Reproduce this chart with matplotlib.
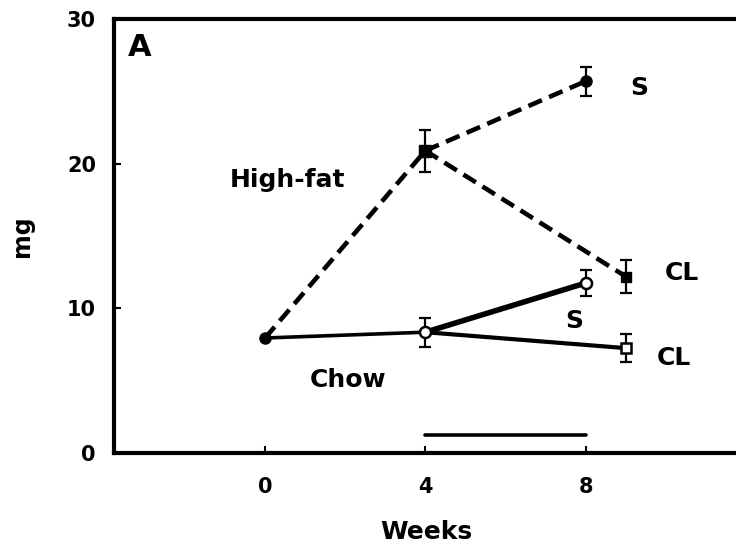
import matplotlib
matplotlib.use("Agg")
import matplotlib.pyplot as plt

# values (mg vs weeks)
start_week = 0
start_mg = 7.95

hf_weeks = [4, 8, 9]          # high-fat: week 4, then S (week 8) and CL (plotted at 9)
hf_mg = [20.9, 25.7, 12.2]
hf_err = [1.45, 1.0, 1.15]

chow_weeks = [4, 8, 9]
chow_mg = [8.35, 11.75, 7.25]
chow_err = [1.0, 0.9, 0.95]

treat_weeks = [4, 8]
treat_level = 1.25

x_ticks = [0, 4, 8]
y_ticks = [0, 10, 20, 30]

labels = [("High-fat", -0.87, 18.4), ("Chow", 1.12, 4.56),
          ("S", 9.1, 24.74), ("CL", 9.98, 11.96),
          ("S", 7.48, 8.64), ("CL", 9.78, 6.08)]

plt.rcParams['font.family'] = ['DejaVu Sans']
plt.rcParams['font.weight'] = 'bold'

fig = plt.figure(figsize=(7.36, 5.5), dpi=100)
ax = fig.add_axes([114 / 736, 97 / 550, 624 / 736, 434 / 550])

dash = (0, (3.2, 1.7))
# high-fat (dashed)
ax.plot([start_week, hf_weeks[0]], [start_mg, hf_mg[0]], color="black", lw=3.3, ls=dash)
ax.plot([hf_weeks[0], hf_weeks[1]], [hf_mg[0], hf_mg[1]], color="black", lw=3.3, ls=dash)
ax.plot([hf_weeks[0], hf_weeks[2]], [hf_mg[0], hf_mg[2]], color="black", lw=3.3, ls=dash)

# chow (solid)
ax.plot([start_week, chow_weeks[0]], [start_mg, chow_mg[0]], color="black", lw=2.6)
ax.plot([chow_weeks[0], chow_weeks[1]], [chow_mg[0], chow_mg[1]], color="black", lw=4)
ax.plot([chow_weeks[0], chow_weeks[2]], [chow_mg[0], chow_mg[2]], color="black", lw=3)

# error bars
ax.errorbar(hf_weeks, hf_mg, yerr=hf_err, fmt="none", ecolor="black",
            elinewidth=1.6, capsize=4.5, capthick=1.6, zorder=3)
ax.errorbar(chow_weeks, chow_mg, yerr=chow_err, fmt="none", ecolor="black",
            elinewidth=1.6, capsize=4.5, capthick=1.6, zorder=3)

# markers
ax.plot([start_week], [start_mg], "o", color="black", ms=8, zorder=4)
ax.plot(hf_weeks[0], hf_mg[0], "s", color="black", ms=8, zorder=4)
ax.plot(hf_weeks[1], hf_mg[1], "o", color="black", ms=8, zorder=4)
ax.plot(hf_weeks[2], hf_mg[2], "s", color="black", ms=7.5, zorder=4)
ax.plot(chow_weeks[0], chow_mg[0], "o", mfc="white", mec="black", mew=1.8, ms=8, zorder=4)
ax.plot(chow_weeks[1], chow_mg[1], "o", mfc="white", mec="black", mew=1.8, ms=8, zorder=4)
ax.plot(chow_weeks[2], chow_mg[2], "s", mfc="white", mec="black", mew=1.8, ms=7.5, zorder=4)

# treatment period bar
ax.plot(treat_weeks, [treat_level, treat_level], color="black", lw=2.6, solid_capstyle="round")

for txt, x, y in labels:
    ax.text(x, y, txt, fontsize=18, fontweight="bold", ha="left", va="baseline")
ax.text(0.022, 0.935, "A", transform=ax.transAxes, fontsize=22, fontweight="bold",
        ha="left", va="center")

ax.set_xlim(-3.77, 11.8)
ax.set_ylim(0, 30)
ax.set_xticks(x_ticks)
ax.set_yticks(y_ticks)
ax.tick_params(direction="in", length=5, width=1.5, labelsize=15)
ax.tick_params(axis="x", pad=17)
ax.tick_params(axis="y", pad=13)
for lab in ax.get_xticklabels() + ax.get_yticklabels():
    lab.set_fontweight("bold")

for side in ["left", "bottom", "top"]:
    ax.spines[side].set_linewidth(3)
ax.spines["right"].set_visible(False)

ax.set_xlabel("Weeks", fontsize=18, fontweight="bold", va="center")
ax.xaxis.set_label_coords(0.5, -0.182)
ax.set_ylabel("mg", fontsize=17, fontweight="bold", va="center")
ax.yaxis.set_label_coords(-0.148, 0.5)

fig.savefig("out.png", dpi=100)
